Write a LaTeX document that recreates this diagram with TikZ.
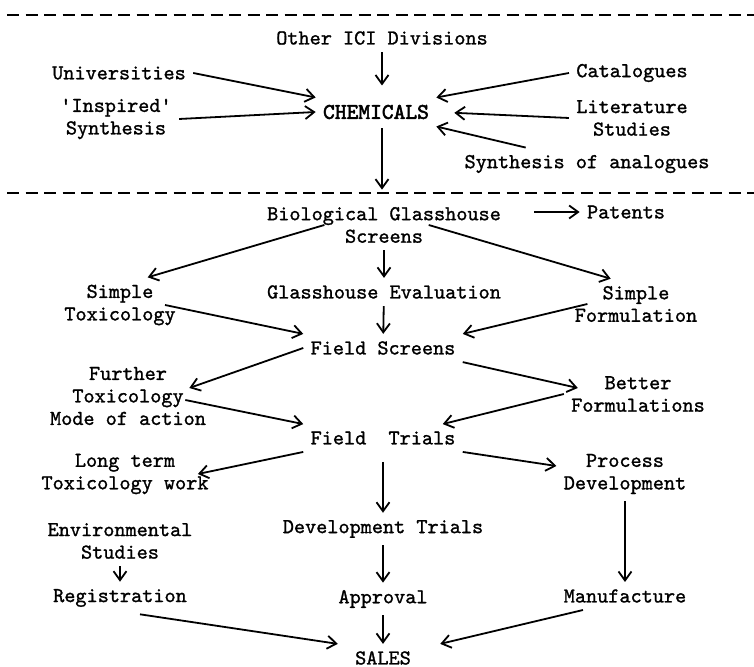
\documentclass[tikz,border=0pt]{standalone}
\usepackage{fontspec}
\newfontfamily\typew{lmmono10-regular.otf}[FakeBold=1.2]
\newfontfamily\typewb{lmmono10-regular.otf}[FakeBold=2.4]
\usepackage{tikz}
\usetikzlibrary{positioning,calc,arrows.meta}

\begin{document}
\begin{tikzpicture}[x=0.5pt, y=-0.5pt,
    txt/.style={font=\typew\fontsize{10.6}{11.25}\selectfont, align=center, inner sep=3.5pt},
    flow/.style={-{Straight Barb[length=4.5pt,width=6.5pt]}, line width=0.9pt},
    sep/.style={line width=1pt, dash pattern=on 6pt off 3.25pt}]
    \useasboundingbox (0,0) rectangle (754,667);
    \draw[sep] (7,15) -- (754,15);
    \draw[sep] (7,193) -- (754,193);

    \node[txt] (other) at (382,38) {Other ICI Divisions};
    \node[txt, font=\typewb\fontsize{11.2}{12}\selectfont] (chem) at (376,112) {CHEMICALS};
    \node[txt] (univ) at (119,73) {Universities};
    \node[txt] (insp) at (116,119) {'Inspired'\\Synthesis};
    \node[txt] (cat) at (632,73) {Catalogues};
    \node[txt] (lit) at (632,118) {Literature\\Studies};
    \node[txt] (syn) at (587,164) {Synthesis of analogues};

    \node[txt] (bio) at (384,225) {Biological Glasshouse\\Screens};
    \node[txt] (pat) at (626,212) {Patents};
    \node[txt] (stox) at (120,305) {Simple\\Toxicology};
    \node[txt] (geval) at (384,292) {Glasshouse Evaluation};
    \node[txt] (sform) at (636,304) {Simple\\Formulation};
    \node[txt] (fscr) at (383,348) {Field Screens};
    \node[txt] (ftox) at (128,396) {Further\\Toxicology\\Mode of action};
    \node[txt] (bform) at (638,394) {Better\\Formulations};
    \node[txt] (ftri) at (383,438) {Field\ \ Trials};
    \node[txt] (ltox) at (125,474) {Long term\\Toxicology work};
    \node[txt] (proc) at (625,474) {Process\\Development};
    \node[txt] (env) at (120,541) {Environmental\\Studies};
    \node[txt] (dtri) at (383,529) {Development Trials};
    \node[txt] (reg) at (120,598) {Registration};
    \node[txt] (appr) at (383,599) {Approval};
    \node[txt] (manu) at (625,596) {Manufacture};
    \node[txt] (sales) at (383,658) {SALES};

    \draw[flow, shorten >=6pt] (other) -- (other |- chem.north);
    \draw[flow] (univ.east) -- (chem.north west);
    \draw[flow] (insp.east) -- (chem.west);
    \draw[flow] (cat.west) -- (chem.north east);
    \draw[flow, shorten >=9pt] (lit.west) -- (chem.east);
    \draw[flow] (syn.165) -- (chem.south east);
    \draw[flow, shorten <=1pt, shorten >=5pt] (chem.south -| other) -- (other |- bio.north);

    \draw[flow, shorten <=13pt] (bio.east |- pat) -- (pat);
    \draw[flow] ($(bio.west)!0.26!(bio.east)$) -- (stox.45);
    \draw[flow] ($(bio.west)!0.68!(bio.east)$) -- (sform.135);
    \draw[flow] (bio) -- (geval);
    \draw[flow] ([xshift=-9pt]stox.east) -- (fscr.north west);
    \draw[flow] (geval) -- (fscr);
    \draw[flow] ([xshift=10pt]sform.west) -- (fscr.north east);
    \draw[flow] (fscr.west) -- ([xshift=-12pt,yshift=4pt]ftox.east);
    \draw[flow] (fscr.south east) -- ([xshift=7pt,yshift=3pt]bform.west);
    \draw[flow] ([xshift=-14pt,yshift=-2pt]ftox.east) -- (ftri.north west);
    \draw[flow] (bform.west) -- ([xshift=-10pt]ftri.north east);
    \draw[flow] (ftri.south west) -- ([xshift=-9pt]ltox.east);
    \draw[flow] (ftri.south east) -- ([yshift=4pt]proc.west);
    \draw[flow, shorten <=5pt] (ftri) -- (dtri);
    \draw[flow] (proc) -- (manu);
    \draw[flow] (dtri) -- (appr);
    \draw[flow] (env) -- (reg);
    \draw[flow] ([xshift=10pt]reg.south) -- ([xshift=-5pt]sales.north west);
    \draw[flow] (appr) -- (sales);
    \draw[flow] ([xshift=-21pt]manu.south) -- ([xshift=11pt]sales.north east);
\end{tikzpicture}
\end{document}
